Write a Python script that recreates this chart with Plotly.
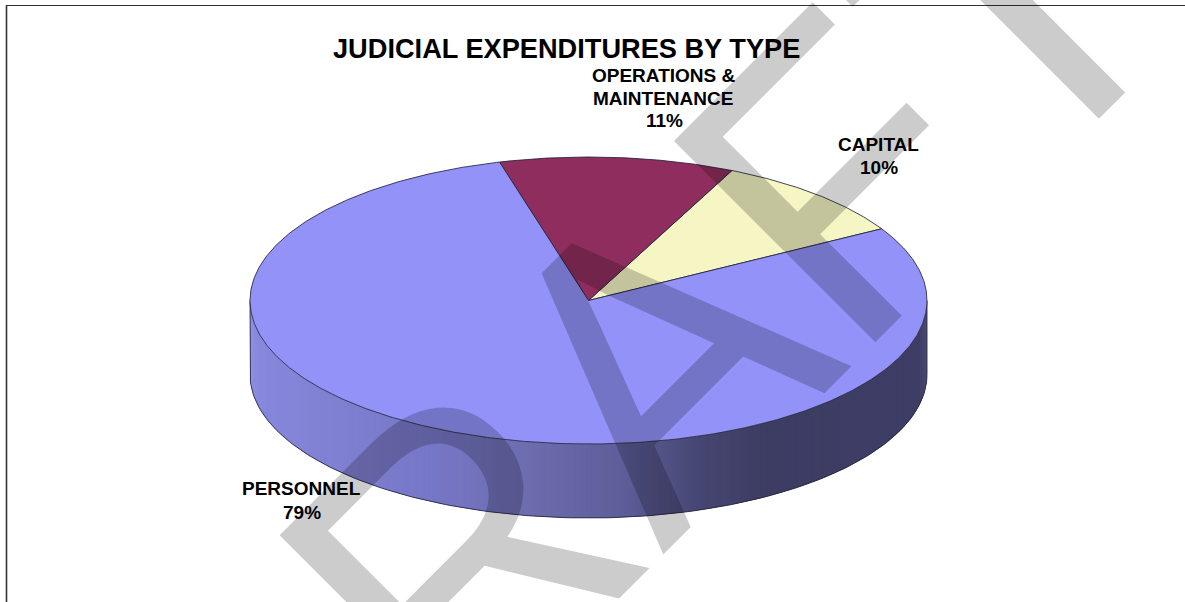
import numpy as np
import plotly.graph_objects as go

# ---- data ----
categories = ["CAPITAL", "OPERATIONS & MAINTENANCE", "PERSONNEL"]
shares = [9.7, 11.2, 79.1]
slice_colors = ["#F6F6C4", "#8F2D5E", "#9292F8"]
title_text = "JUDICIAL EXPENDITURES BY TYPE"
watermark = "DRAFT"

# ---- pie geometry (page pixels) ----
W, H = 1185, 602
CX, CY, RX, RY, DEPTH = 588.5, 300.5, 338.5, 143.5, 74
START_DEG = 30
OUTLINE = "rgba(35,35,60,0.85)"
FONT = "Liberation Sans"


def ell(t_deg):
    t = np.radians(t_deg)
    return CX + RX * np.cos(t), CY - RY * np.sin(t)


def side_color(x):
    f = (x - (CX - RX)) / (2 * RX)
    stops = [0.0, 0.13, 0.28, 0.43, 0.55, 0.67, 0.76, 1.0]
    rg = np.interp(f, stops, [0x88, 0x80, 0x76, 0x6B, 0x5E, 0x46, 0x3D, 0x3D])
    b = np.interp(f, stops, [0xDE, 0xD2, 0xC6, 0xAC, 0x9A, 0x72, 0x63, 0x66])
    return f"rgb({rg:.0f},{rg:.0f},{b:.0f})"


fig = go.Figure()

# side wall: overlapping gradient strips along the front half of the rim
edges = np.linspace(180, 360, 361)
for i in range(len(edges) - 1):
    a = edges[i]
    b = edges[min(i + 2, len(edges) - 1)]  # overlap the next strip to hide seams
    xa, ya = ell(a)
    xb, yb = ell(b)
    col = side_color((xa + xb) / 2)
    fig.add_trace(go.Scatter(
        x=[xa, xb, xb, xa, xa],
        y=[ya, yb, yb + DEPTH, ya + DEPTH, ya],
        mode="lines", fill="toself", fillcolor=col,
        line=dict(width=0), hoverinfo="skip", showlegend=False))

# outline of the wall
ts = np.linspace(180, 360, 181)
xs, ys = ell(ts)
fig.add_trace(go.Scatter(
    x=np.r_[xs[0], xs, xs[-1]], y=np.r_[ys[0], ys + DEPTH, ys[-1]],
    mode="lines", line=dict(color=OUTLINE, width=1),
    hoverinfo="skip", showlegend=False))

# top face: slices derived from the shares
angle = START_DEG
total = sum(shares)
for name, val, col in zip(categories, shares, slice_colors):
    sweep = 360 * val / total
    ts = np.linspace(angle, angle + sweep, max(int(sweep * 2), 8))
    xs, ys = ell(ts)
    fig.add_trace(go.Scatter(
        x=np.r_[CX, xs, CX], y=np.r_[CY, ys, CY],
        mode="lines", fill="toself", fillcolor=col,
        line=dict(color=OUTLINE, width=1),
        name=name, text=f"{name} {round(val)}%", hoverinfo="text", showlegend=False))
    angle += sweep

annotations = [dict(
    text=watermark, x=624, y=390, xref="x", yref="y",
    xanchor="center", yanchor="middle", textangle=-45, showarrow=False,
    font=dict(family=FONT, size=414, color="rgba(0,0,0,0.2)"))]

label_lines = [
    ("OPERATIONS &", 663, 75.5), ("MAINTENANCE", 663, 98), ("11%", 664, 120),
    ("CAPITAL", 878, 144), ("10%", 879, 167),
    ("PERSONNEL", 301, 488), ("79%", 302, 512),
]
for txt, x, y in label_lines:
    annotations.append(dict(
        text=f"<b>{txt}</b>", x=x, y=y, xref="x", yref="y", showarrow=False,
        xanchor="center", yanchor="middle",
        font=dict(family=FONT, size=19, color="#000000")))
annotations.append(dict(
    text=f"<b>{title_text}</b>", x=566, y=48, xref="x", yref="y", showarrow=False,
    xanchor="center", yanchor="middle",
    font=dict(family=FONT, size=27.2, color="#000000")))

shapes = [
    dict(type="line", xref="x", yref="y", x0=6.5, x1=6.5, y0=5, y1=H,
         line=dict(color="#333333", width=1.6)),
    dict(type="line", xref="x", yref="y", x0=6, x1=W, y0=5.5, y1=5.5,
         line=dict(color="#333333", width=1.2)),
]

fig.update_layout(
    width=W, height=H, autosize=False,
    margin=dict(l=0, r=0, t=0, b=0),
    paper_bgcolor="white", plot_bgcolor="white",
    xaxis=dict(range=[0, W], visible=False, fixedrange=True),
    yaxis=dict(range=[H, 0], visible=False, fixedrange=True),
    annotations=annotations, shapes=shapes,
)

fig.write_html(
    "out.html",
    config={"displayModeBar": False},
    post_script=(
        "document.body.style.margin='0';document.body.style.overflow='hidden';"
        "var wm=document.querySelector('.annotation[data-index=\"0\"] .annotation-text');"
        "if(wm){wm.setAttribute('textLength','1338');wm.setAttribute('lengthAdjust','spacingAndGlyphs');}"
    ),
)
